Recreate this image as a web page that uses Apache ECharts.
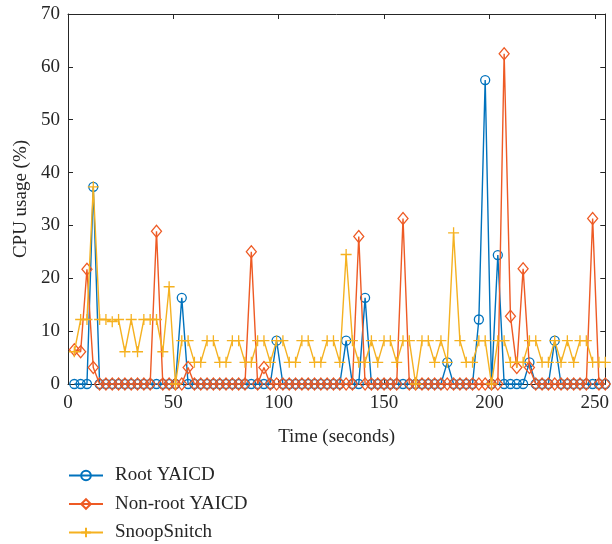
<!DOCTYPE html>
<html>
<head>
<meta charset="utf-8">
<script src="https://cdn.jsdelivr.net/npm/echarts@6/dist/echarts.min.js"></script>
<style>html,body{margin:0;padding:0;background:#fff}#c{width:612px;height:544px}</style>
</head>
<body>
<div id="c"></div>
<script>
const timeSec = [
  3, 6, 9, 12, 15, 18, 21, 24, 27, 30, 33, 36, 39, 42, 45, 48, 51, 54, 57, 60,
  63, 66, 69, 72, 75, 78, 81, 84, 87, 90, 93, 96, 99, 102, 105, 108, 111, 114, 117, 120,
  123, 126, 129, 132, 135, 138, 141, 144, 147, 150, 153, 156, 159, 162, 165, 168, 171, 174, 177, 180,
  183, 186, 189, 192, 195, 198, 201, 204, 207, 210, 213, 216, 219, 222, 225, 228, 231, 234, 237, 240,
  243, 246, 249, 252, 255
];
const rootYAICD = [
  0, 0, 0, 37.3, 0, 0, 0, 0, 0, 0, 0, 0, 0, 0, 0, 0, 0, 16.3, 0, 0,
  0, 0, 0, 0, 0, 0, 0, 0, 0, 0, 0, 0, 8.2, 0, 0, 0, 0, 0, 0, 0,
  0, 0, 0, 8.2, 0, 0, 16.3, 0, 0, 0, 0, 0, 0, 0, 0, 0, 0, 0, 0, 4.1,
  0, 0, 0, 0, 12.2, 57.5, 0, 24.4, 0, 0, 0, 0, 4.1, 0, 0, 0, 8.2, 0, 0, 0,
  0, 0, 0, 0, 0
];
const nonRootYAICD = [
  6.5, 6.1, 21.7, 3.1, 0, 0, 0, 0, 0, 0, 0, 0, 0, 28.9, 0, 0, 0, 0, 3.1, 0,
  0, 0, 0, 0, 0, 0, 0, 0, 25.0, 0, 3.1, 0, 0, 0, 0, 0, 0, 0, 0, 0,
  0, 0, 0, 0, 0, 27.9, 0, 0, 0, 0, 0, 0, 31.3, 0, 0, 0, 0, 0, 0, 0,
  0, 0, 0, 0, 0, 0, 0, 0, 62.5, 12.8, 3.1, 21.8, 3.1, 0, 0, 0, 0, 0, 0, 0,
  0, 0, 31.3, 0, 0
];
const snoopSnitch = [
  6.1, 12.2, 12.2, 37.3, 12.2, 12.2, 11.8, 12.2, 6.1, 12.2, 6.1, 12.2, 12.2, 12.2, 6.1, 18.4, 0, 8.2, 8.2, 4.1,
  4.1, 8.2, 8.2, 4.1, 4.1, 8.2, 8.2, 4.1, 4.1, 8.2, 8.2, 4.1, 8.2, 8.2, 4.1, 4.1, 8.2, 8.2, 4.1, 4.1,
  8.2, 8.2, 4.1, 24.5, 8.2, 4.1, 4.1, 8.2, 4.1, 8.2, 8.2, 4.1, 8.2, 8.2, 0, 8.2, 8.2, 4.1, 8.2, 4.1,
  28.6, 8.2, 4.1, 4.1, 8.2, 8.2, 0, 8.2, 8.2, 4.1, 4.1, 4.1, 8.2, 8.2, 4.1, 4.1, 8.2, 4.1, 8.2, 4.1,
  8.2, 8.2, 4.1, 4.1, 4.1
];
const seriesNames = ['Root YAICD', 'Non-root YAICD', 'SnoopSnitch'];
const xTicks = [0, 50, 100, 150, 200, 250];
const yTicks = [0, 10, 20, 30, 40, 50, 60, 70];

const FONT = 'Liberation Serif';
const colors = ['#0072BD', '#EE5A24', '#F5B120'];
const plusPath = 'path://M5,0L5,10M0,5L10,5';
const symbols = ['circle', 'diamond', plusPath];
const symSizes = [9, [10, 12], 11];
const dataSets = [rootYAICD, nonRootYAICD, snoopSnitch];

function pairs(vals) { return vals.map((v, i) => [timeSec[i], v]); }

const axisLine = { show: true, onZero: false, lineStyle: { color: '#262626', width: 1 } };
const tickStyle = { show: true, inside: true, length: 5, lineStyle: { color: '#262626', width: 1 } };

const chart = echarts.init(document.getElementById('c'), null, { renderer: 'canvas' });
chart.setOption({
  animation: false,
  backgroundColor: '#fff',
  grid: { left: 68, right: 2, top: 14, bottom: 160, containLabel: false },
  legend: {
    orient: 'vertical', left: 68, top: 466, height: 90, padding: 0,
    itemWidth: 34, itemHeight: 12, itemGap: 9.5,
    textStyle: { fontFamily: FONT, fontSize: 19, color: '#262626', padding: [0, 0, 0, 7] },
    data: seriesNames
  },
  xAxis: [{
    type: 'value', min: 0, max: 255, interval: 50,
    name: 'Time (seconds)', nameLocation: 'middle', nameGap: 44,
    nameTextStyle: { fontFamily: FONT, fontSize: 19, color: '#262626' },
    axisLine: axisLine, axisTick: tickStyle, splitLine: { show: false },
    axisLabel: { fontFamily: FONT, fontSize: 19, color: '#262626', margin: 10,
      formatter: v => (xTicks.indexOf(v) >= 0 ? String(v) : '') }
  }, {
    type: 'value', min: 0, max: 255, interval: 50, position: 'top',
    axisLine: axisLine, axisTick: tickStyle, axisLabel: { show: false }, splitLine: { show: false }
  }],
  yAxis: [{
    type: 'value', min: 0, max: 70, interval: 10,
    name: 'CPU usage (%)', nameLocation: 'middle', nameGap: 37,
    nameTextStyle: { fontFamily: FONT, fontSize: 19, color: '#262626' },
    axisLine: axisLine, axisTick: tickStyle, splitLine: { show: false },
    axisLabel: { fontFamily: FONT, fontSize: 19, color: '#262626', margin: 8,
      formatter: v => (yTicks.indexOf(v) >= 0 ? String(v) : '') }
  }, {
    type: 'value', min: 0, max: 70, interval: 10, position: 'right',
    axisLine: axisLine, axisTick: tickStyle, axisLabel: { show: false }, splitLine: { show: false }
  }],
  series: dataSets.map((d, k) => ({
    name: seriesNames[k],
    type: 'line',
    data: pairs(d),
    xAxisIndex: 0, yAxisIndex: 0,
    symbol: symbols[k],
    symbolSize: symSizes[k],
    showAllSymbol: true,
    color: colors[k],
    lineStyle: { color: colors[k], width: 1.4 },
    itemStyle: { color: 'rgba(255,255,255,0)', borderColor: colors[k], borderWidth: 1.3 },
    emphasis: { disabled: true },
    clip: false,
    z: 2 + k
  }))
});
</script>
</body>
</html>
